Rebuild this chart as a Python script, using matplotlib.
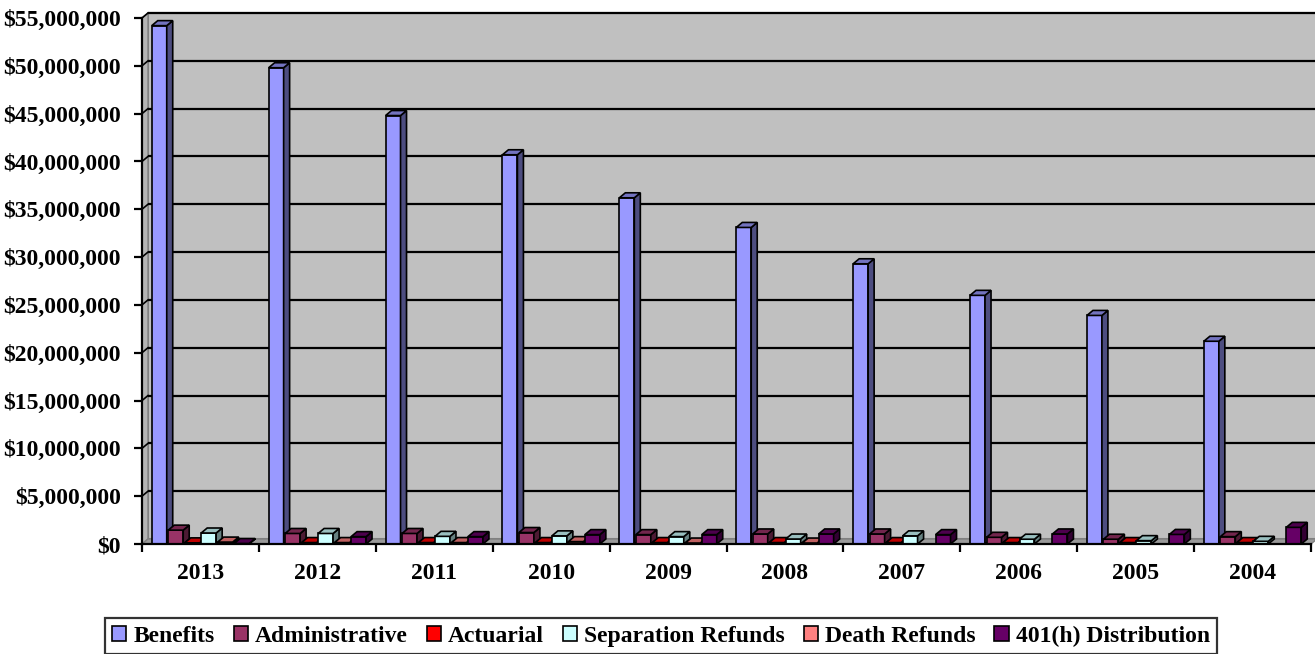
import matplotlib
matplotlib.use("Agg")
import matplotlib.pyplot as plt
from matplotlib.patches import Polygon, Rectangle
from matplotlib.ticker import FuncFormatter, MultipleLocator
import numpy as np

years = ["2013", "2012", "2011", "2010", "2009", "2008", "2007", "2006", "2005", "2004"]
series_names = ["Benefits", "Administrative", "Actuarial", "Separation Refunds",
                "Death Refunds", "401(h) Distribution"]
benefits = [54.2e6, 49.8e6, 44.8e6, 40.7e6, 36.2e6, 33.1e6, 29.3e6, 26.0e6, 23.9e6, 21.2e6]
administrative = [1.45e6, 1.1e6, 1.1e6, 1.2e6, 0.98e6, 1.05e6, 1.05e6, 0.7e6, 0.5e6, 0.77e6]
actuarial = [0.12e6, 0.15e6, 0.15e6, 0.15e6, 0.15e6, 0.15e6, 0.15e6, 0.15e6, 0.15e6, 0.15e6]
separation = [1.15e6, 1.1e6, 0.8e6, 0.85e6, 0.77e6, 0.52e6, 0.85e6, 0.5e6, 0.35e6, 0.28e6]
death = [0.2e6, 0.15e6, 0.15e6, 0.25e6, 0.1e6, 0.1e6, 0.0, 0.0, 0.0, 0.0]
distribution_401h = [0.05e6, 0.77e6, 0.77e6, 0.98e6, 0.98e6, 1.05e6, 0.98e6, 1.05e6, 1.0e6, 1.74e6]

series = [benefits, administrative, actuarial, separation, death, distribution_401h]
colors = ["#9999FF", "#993366", "#FF0000", "#CCFFFF", "#FF8080", "#660066"]

y_max = 55e6
y_step = 5e6

W, H = 1315, 654
fig = plt.figure(figsize=(W / 100, H / 100), dpi=100)
ax_left, ax_right, ax_top, ax_bottom = 142, 1311, 18, 544
ax = fig.add_axes([ax_left / W, 1 - ax_bottom / H,
                   (ax_right - ax_left) / W, (ax_bottom - ax_top) / H])
ax.set_xlim(-0.5, len(years) - 0.5)
ax.set_ylim(0, y_max)
ax.set_facecolor("none")

# depth of the 3-D effect, in pixels, converted to data units
depth_px_x, depth_px_y = 6.0, 5.0
dx = depth_px_x * (len(years)) / (ax_right - ax_left)
dy = depth_px_y * y_max / (ax_bottom - ax_top)

font = "Liberation Serif"
fsize = 17
x0, x1 = -0.5, len(years) - 0.5

# back wall, side wall and floor
ax.add_patch(Rectangle((x0 + dx, dy), x1 - x0, y_max, facecolor="#C0C0C0",
                       edgecolor="#808080", lw=1.5, zorder=0, clip_on=False))
ax.add_patch(Polygon([(x0, 0), (x0 + dx, dy), (x0 + dx, y_max + dy), (x0, y_max)],
                     closed=True, facecolor="#B4B4B4", edgecolor="#808080", lw=1.0,
                     zorder=0.5, clip_on=False))
ax.add_patch(Polygon([(x0, 0), (x1, 0), (x1 + dx, dy), (x0 + dx, dy)],
                     closed=True, facecolor="#9A9A9A", edgecolor="#808080", lw=1.0,
                     zorder=0.5, clip_on=False))

for v in np.arange(y_step, y_max + 1, y_step):
    ax.plot([x0 + dx, x1 + dx], [v + dy, v + dy], color="black", lw=1.6,
            zorder=1, clip_on=False, solid_capstyle="butt")
    ax.plot([x0, x0 + dx], [v, v + dy], color="black", lw=1.2,
            zorder=1, clip_on=False)

# clustered 3-D columns
n = len(series)
slot = 0.141
width = 0.128


def shade(c, f):
    rgb = np.array(matplotlib.colors.to_rgb(c))
    return tuple(rgb * f)


z = 2
for i in range(len(years)):
    for k in range(n):
        h = series[k][i]
        if h <= 0:
            continue
        left = i + (k - (n - 1) / 2) * slot - width / 2
        c = colors[k]
        ax.bar(left, h, width=width, align="edge", color=c, edgecolor="black",
               lw=1.2, zorder=z)
        top = [(left, h), (left + dx, h + dy), (left + width + dx, h + dy), (left + width, h)]
        side = [(left + width, 0), (left + width + dx, dy),
                (left + width + dx, h + dy), (left + width, h)]
        ax.add_patch(Polygon(side, closed=True, facecolor=shade(c, 0.5),
                             edgecolor="black", lw=1.2, zorder=z, clip_on=False))
        ax.add_patch(Polygon(top, closed=True, facecolor=shade(c, 0.75),
                             edgecolor="black", lw=1.2, zorder=z, clip_on=False))
        z += 0.01

# axes
for s in ["top", "right"]:
    ax.spines[s].set_visible(False)
ax.spines["left"].set_linewidth(1.6)
ax.spines["bottom"].set_linewidth(1.6)
ax.spines["left"].set_zorder(5)
ax.spines["bottom"].set_zorder(5)

ax.yaxis.set_major_locator(MultipleLocator(y_step))
ax.yaxis.set_major_formatter(FuncFormatter(lambda v, p: f"${v:,.0f}"))
ax.set_xticks(np.arange(-0.5, len(years) + 0.5, 1.0))
ax.set_xticklabels([])
ax.set_xticks(np.arange(len(years)), minor=True)
ax.set_xticklabels(years, minor=True)
ax.tick_params(axis="x", which="major", direction="out", length=6, width=1.6)
ax.tick_params(axis="x", which="minor", length=0, pad=14)
ax.tick_params(axis="y", direction="out", length=6, width=1.6, pad=9)
for lab in ax.get_yticklabels() + ax.get_xticklabels(minor=True):
    lab.set_fontfamily(font)
    lab.set_fontweight("bold")
    lab.set_fontsize(fsize)

handles = [Rectangle((0, 0), 1, 1, facecolor=c, edgecolor="black", lw=1.2) for c in colors]
leg = fig.legend(handles, series_names, loc="center", bbox_to_anchor=(661 / W, 1 - 636 / H),
                 ncol=n, frameon=True, fancybox=False, handlelength=0.6, handleheight=0.6,
                 handletextpad=0.3, columnspacing=0.8, borderpad=0.3,
                 prop={"family": font, "weight": "bold", "size": fsize})
leg.get_frame().set_edgecolor("black")
leg.get_frame().set_linewidth(1.6)

fig.savefig("out.png", dpi=100)
